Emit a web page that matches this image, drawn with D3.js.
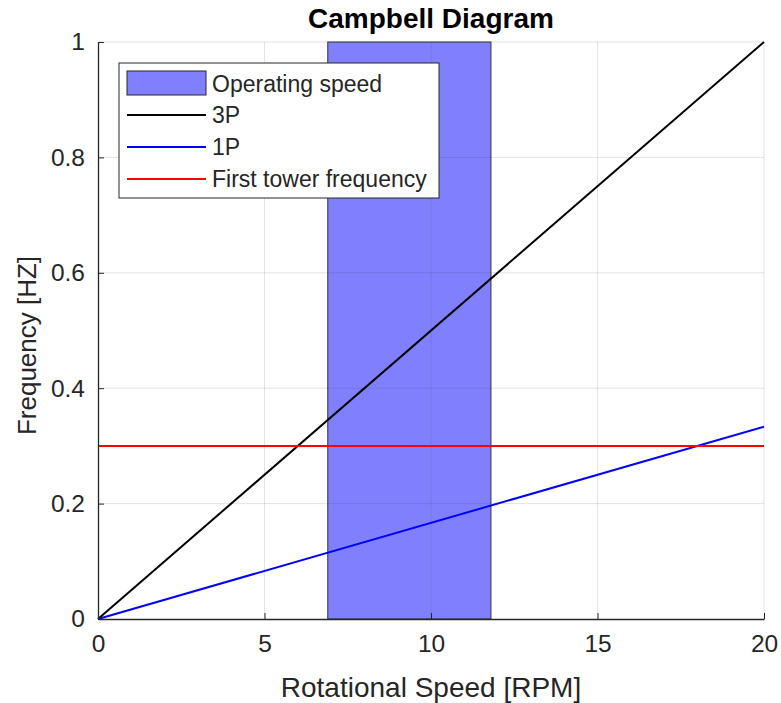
<!DOCTYPE html>
<html>
<head>
<meta charset="utf-8">
<script src="https://cdn.jsdelivr.net/npm/d3@7"></script>
<style>
  body { margin: 0; background: #fff; }
  svg text { font-family: 'Liberation Sans', Arial, sans-serif; fill: #262626; }
</style>
</head>
<body>
<div id="wrapper"></div>
<script>
// rotor speed range (RPM) and the lines plotted over it
const speedRange = [0, 20]
const operatingBand = [6.9, 11.8]
const series = [
  { name: '3P', color: '#000000', points: [[0, 0], [20, 1]] },
  { name: '1P', color: '#0000ff', points: [[0, 0], [20, 0.3333]] },
  { name: 'First tower frequency', color: '#ff0000', points: [[0, 0.3], [20, 0.3]] },
]
const xTicks = [0, 5, 10, 15, 20]
const yTicks = [0, 0.2, 0.4, 0.6, 0.8, 1]

const dimensions = {
  width: 781,
  height: 703,
  margin: { top: 42, right: 17, bottom: 84, left: 98 },
}
dimensions.boundedWidth =
  dimensions.width - dimensions.margin.left - dimensions.margin.right
dimensions.boundedHeight =
  dimensions.height - dimensions.margin.top - dimensions.margin.bottom

const svg = d3
  .select('#wrapper')
  .append('svg')
  .attr('width', dimensions.width)
  .attr('height', dimensions.height)

const bounds = svg
  .append('g')
  .attr('transform', `translate(${dimensions.margin.left},${dimensions.margin.top})`)

const xScale = d3.scaleLinear().domain(speedRange).range([0, dimensions.boundedWidth])
const yScale = d3.scaleLinear().domain([0, 1]).range([dimensions.boundedHeight, 0])

// operating speed patch
bounds
  .append('rect')
  .attr('x', xScale(operatingBand[0]))
  .attr('y', yScale(1))
  .attr('width', xScale(operatingBand[1]) - xScale(operatingBand[0]))
  .attr('height', yScale(0) - yScale(1))
  .attr('fill', '#8080ff')
  .attr('stroke', '#333333')
  .attr('stroke-width', 1)

// grid lines (drawn over the translucent patch like matlab does)
const grid = bounds.append('g').attr('class', 'grid')
grid
  .selectAll('.gx')
  .data(xTicks.slice(1))
  .join('line')
  .attr('x1', (d) => xScale(d))
  .attr('x2', (d) => xScale(d))
  .attr('y1', 0)
  .attr('y2', dimensions.boundedHeight)
  .attr('stroke', '#262626')
  .attr('stroke-opacity', 0.13)
grid
  .selectAll('.gy')
  .data(yTicks.slice(1))
  .join('line')
  .attr('x1', 0)
  .attr('x2', dimensions.boundedWidth)
  .attr('y1', (d) => yScale(d))
  .attr('y2', (d) => yScale(d))
  .attr('stroke', '#262626')
  .attr('stroke-opacity', 0.13)

// lines
const lineGen = d3
  .line()
  .x((d) => xScale(d[0]))
  .y((d) => yScale(d[1]))

bounds
  .selectAll('.series')
  .data(series)
  .join('path')
  .attr('d', (d) => lineGen(d.points))
  .attr('fill', 'none')
  .attr('stroke', (d) => d.color)
  .attr('stroke-width', 2)

// axes, ticks pointing inward
const xAxis = bounds
  .append('g')
  .attr('transform', `translate(0,${dimensions.boundedHeight})`)
  .call(d3.axisBottom(xScale).tickValues(xTicks).tickSize(-6).tickSizeOuter(0).tickPadding(16))
const yAxis = bounds
  .append('g')
  .call(
    d3.axisLeft(yScale).tickValues(yTicks).tickSize(-6).tickSizeOuter(0).tickPadding(13)
      .tickFormat(d3.format('~g'))
  )

;[xAxis, yAxis].forEach((ax) => {
  ax.select('.domain').attr('stroke', '#262626').attr('stroke-width', 1.3)
  ax.selectAll('.tick line').attr('stroke', '#262626')
  ax.selectAll('.tick text')
    .attr('font-size', 24.5)
    .attr('fill', '#262626')
    .style('font-family', "'Liberation Sans', Arial, sans-serif")
})

// title and labels
svg
  .append('text')
  .attr('x', dimensions.margin.left + dimensions.boundedWidth / 2)
  .attr('y', 28)
  .attr('text-anchor', 'middle')
  .attr('font-size', 28)
  .attr('font-weight', 'bold')
  .style('fill', '#000')
  .text('Campbell Diagram')

svg
  .append('text')
  .attr('x', dimensions.margin.left + dimensions.boundedWidth / 2)
  .attr('y', 697)
  .attr('text-anchor', 'middle')
  .attr('font-size', 28)
  .text('Rotational Speed [RPM]')

svg
  .append('text')
  .attr('transform', `translate(36,${dimensions.margin.top + dimensions.boundedHeight / 2 + 15}) rotate(-90)`)
  .attr('text-anchor', 'middle')
  .attr('font-size', 26)
  .text('Frequency [HZ]')

// legend
const legend = svg.append('g').attr('transform', 'translate(119,63)')
legend
  .append('rect')
  .attr('width', 320)
  .attr('height', 135)
  .attr('fill', '#fff')
  .attr('stroke', '#262626')
  .attr('stroke-width', 1)

legend
  .append('rect')
  .attr('x', 8)
  .attr('y', 8)
  .attr('width', 79)
  .attr('height', 24)
  .attr('fill', '#8080ff')
  .attr('stroke', '#262626')
legend
  .append('text')
  .attr('x', 93)
  .attr('y', 29)
  .attr('font-size', 23)
  .text('Operating speed')

const entries = legend
  .selectAll('.entry')
  .data(series)
  .join('g')
  .attr('transform', (d, i) => `translate(0,${52 + i * 32})`)
entries
  .append('line')
  .attr('x1', 8)
  .attr('x2', 87)
  .attr('stroke', (d) => d.color)
  .attr('stroke-width', 2)
entries
  .append('text')
  .attr('x', 93)
  .attr('y', 8)
  .attr('font-size', 23)
  .text((d) => d.name)
</script>
</body>
</html>
